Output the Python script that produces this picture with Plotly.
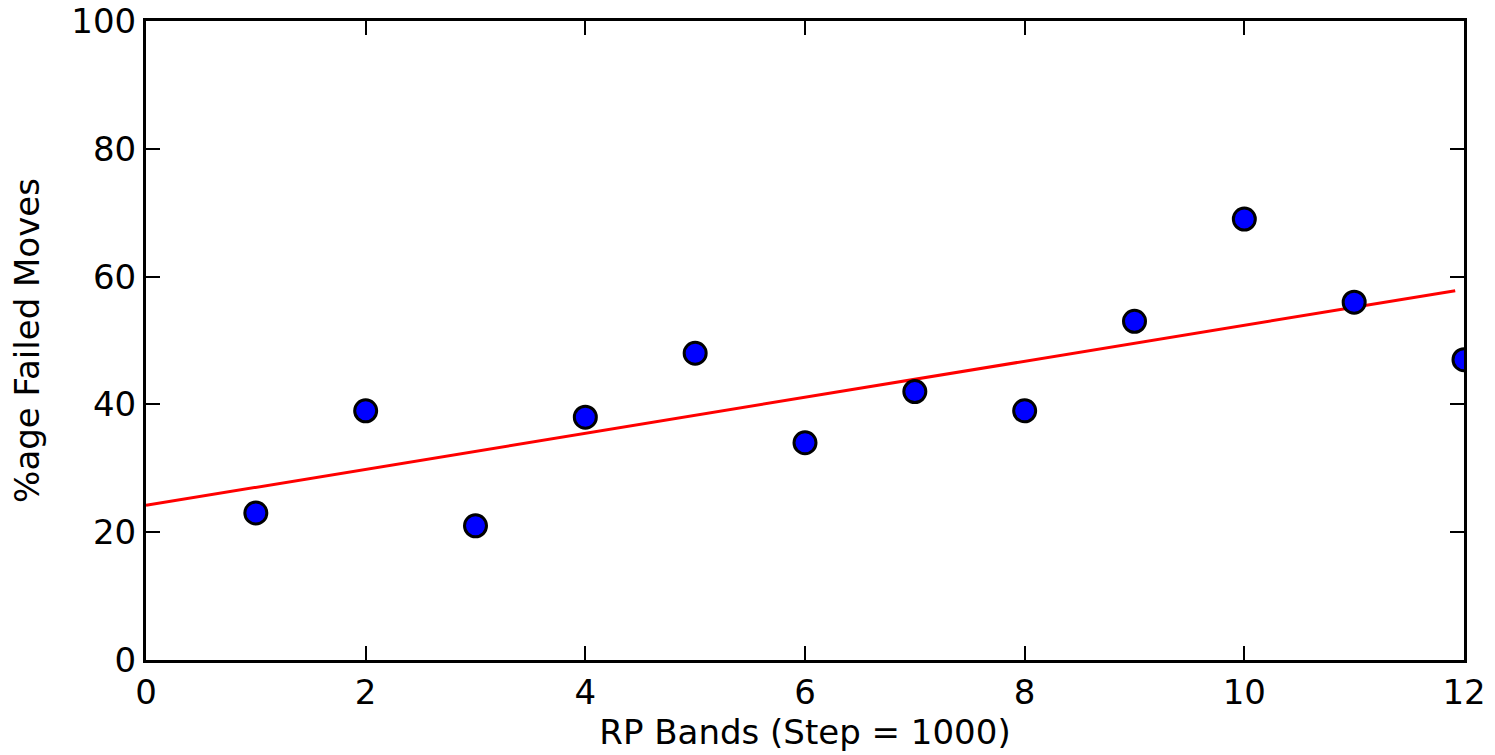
import plotly.graph_objects as go

bands = [1, 2, 3, 4, 5, 6, 7, 8, 9, 10, 11, 12]
failed_pct = [23, 39, 21, 38, 48, 34, 42, 39, 53, 69, 56, 47]
fit_x = [0, 11.92]
fit_y = [24.2, 57.8]

FONT = "DejaVu Sans"
FS = 34

fig = go.Figure()
fig.add_trace(go.Scatter(
    x=fit_x, y=fit_y, mode="lines",
    line=dict(color="#ff0000", width=3),
    showlegend=False, hoverinfo="skip",
))
fig.add_trace(go.Scatter(
    x=bands, y=failed_pct, mode="markers",
    marker=dict(color="#0000ff", size=22, line=dict(color="black", width=3)),
    showlegend=False, cliponaxis=True,
))

axis_common = dict(
    showgrid=False, zeroline=False, automargin=False,
    showline=True, linecolor="black", linewidth=3, mirror="ticks",
    ticks="inside", ticklen=14, tickwidth=2, tickcolor="black",
    tickfont=dict(family=FONT, size=FS, color="black"),
)

fig.update_xaxes(
    range=[0, 12], tickmode="array", tickvals=[0, 2, 4, 6, 8, 10, 12],
    title=dict(text="RP Bands (Step = 1000)", font=dict(family=FONT, size=FS, color="black"), standoff=8),
    **axis_common,
)
fig.update_yaxes(
    range=[0, 100], tickmode="array", tickvals=[0, 20, 40, 60, 80, 100],
    title=dict(text="%age Failed Moves", font=dict(family=FONT, size=FS, color="black"), standoff=22),
    **axis_common,
)

fig.update_layout(
    width=1495, height=755,
    margin=dict(l=146, r=31, t=21, b=95),
    paper_bgcolor="white", plot_bgcolor="white",
    font=dict(family=FONT, size=FS, color="black"),
)

fig.write_html("out.html")
